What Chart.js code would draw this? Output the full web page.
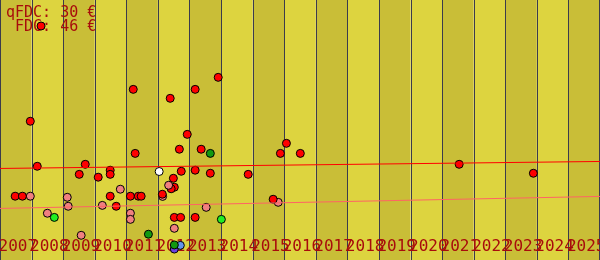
<!DOCTYPE html>
<html>
<head>
<meta charset="utf-8">
<script src="https://cdn.jsdelivr.net/npm/chart.js@4/dist/chart.umd.min.js"></script>
<style>
    body { margin: 0; background: #ffffff; }
    #wrap { width: 600px; height: 260px; }
</style>
</head>
<body>
<div id="wrap"><canvas id="priceChart" width="600" height="260"></canvas></div>
<script>

// years shown as bands along the bottom
var years = [2007, 2008, 2009, 2010, 2011, 2012, 2013, 2014, 2015, 2016,
             2017, 2018, 2019, 2020, 2021, 2022, 2023, 2024, 2025];

var legendLines = ["qFDC: 30 €", " FDC: 46 €"];

// sales: x = date as fractional year, y = price in €
var redSales = [
    {x: 2008.30, y: 108.1}, {x: 2007.96, y: 64.5}, {x: 2011.22, y: 79.1}, {x: 2012.39, y: 75.0},
    {x: 2013.18, y: 79.1}, {x: 2013.91, y: 84.6}, {x: 2012.93, y: 58.5}, {x: 2012.68, y: 51.7},
    {x: 2013.37, y: 51.7}, {x: 2011.28, y: 49.8}, {x: 2016.07, y: 54.4}, {x: 2015.88, y: 49.8},
    {x: 2016.51, y: 49.8}, {x: 2008.18, y: 43.9}, {x: 2009.70, y: 44.8}, {x: 2009.51, y: 40.2},
    {x: 2010.11, y: 38.9}, {x: 2010.49, y: 42.1}, {x: 2010.49, y: 40.2}, {x: 2012.49, y: 38.4},
    {x: 2012.74, y: 41.6}, {x: 2013.18, y: 42.1}, {x: 2013.66, y: 40.7}, {x: 2012.14, y: 31.1},
    {x: 2007.48, y: 30.2}, {x: 2007.71, y: 30.2}, {x: 2010.49, y: 30.2}, {x: 2011.13, y: 30.2},
    {x: 2011.38, y: 30.2}, {x: 2011.47, y: 30.2}, {x: 2010.68, y: 25.6}, {x: 2012.52, y: 20.5},
    {x: 2012.72, y: 20.5}, {x: 2013.18, y: 20.5}, {x: 2014.86, y: 40.2}, {x: 2015.65, y: 28.8},
    {x: 2021.54, y: 44.8}, {x: 2023.89, y: 40.7}
];
var pinkSales = [
    {x: 2012.34, y: 35.2}, {x: 2012.15, y: 30.1}, {x: 2013.53, y: 25.1}, {x: 2012.52, y: 15.5},
    {x: 2007.96, y: 30.2}, {x: 2008.50, y: 22.4}, {x: 2009.13, y: 29.7}, {x: 2009.16, y: 25.6},
    {x: 2009.57, y: 12.3}, {x: 2010.24, y: 26.0}, {x: 2010.81, y: 33.4}, {x: 2011.13, y: 22.4},
    {x: 2011.13, y: 19.6}, {x: 2015.81, y: 27.4}
];
var lateRedSales = [ {x: 2012.52, y: 34.3}, {x: 2012.42, y: 33.6} ]; // drawn over the pink ones
var limeSales = [ {x: 2008.72, y: 20.5}, {x: 2014.01, y: 19.6} ];
var greenSales = [ {x: 2011.70, y: 12.8}, {x: 2013.66, y: 49.8}, {x: 2012.52, y: 7.9} ];
var whiteSales = [ {x: 2012.04, y: 41.5} ];
var blueSales = [ {x: 2012.71, y: 7.7} ];
var purpleSales = [ {x: 2012.52, y: 6.0} ];

// trend lines, value at start of 2007 and end of 2025
var fdcTrend = [42.9, 46.1];
var qfdcTrend = [24.6, 30.1];

var TEXT_RED = "#a80c0c";


function sales_set( data, color ) {
    return {
        type: "scatter",
        data: data,
        pointRadius: 4,
        pointHoverRadius: 4,
        pointBorderWidth: 1,
        pointBorderColor: "#000000",
        pointBackgroundColor: color
    };
} // sales set

function trend_set( values, color ) {
    return {
        type: "line",
        data: [ {x: years[0], y: values[0]}, {x: years[years.length - 1] + 1, y: values[1]} ],
        borderColor: color,
        borderWidth: 1,
        pointRadius: 0,
        fill: false
    };
} // trend set


var bandsPlugin = {
    id: "bands",
    beforeDatasetsDraw: function(chart) {
        var ctx = chart.ctx;
        var xs = chart.scales.x;
        var area = chart.chartArea;
        ctx.save();

        // alternating year bands
        for (var i = 0; i < years.length; i++) {
            var x1 = xs.getPixelForValue(years[i]);
            var x2 = xs.getPixelForValue(years[i] + 1);
            ctx.fillStyle = (i % 2 == 0) ? "#c9be37" : "#ddd43f";
            ctx.fillRect(x1, area.top, x2 - x1, area.bottom - area.top);
        }

        // separators
        ctx.strokeStyle = "#3b3b4c";
        ctx.lineWidth = 1;
        for (var j = 0; j <= years.length; j++) {
            var xl = Math.round(xs.getPixelForValue(years[0] + j)) + 0.5;
            if (xl > area.right) xl = area.right - 0.5;
            ctx.beginPath();
            ctx.moveTo(xl, area.top);
            ctx.lineTo(xl, area.bottom);
            ctx.stroke();
        }

        // year labels, inside the bottom of the plot
        ctx.fillStyle = TEXT_RED;
        ctx.font = "16px 'DejaVu Sans Mono'";
        ctx.textBaseline = "alphabetic";
        ctx.textAlign = "left";
        for (var k = 0; k < years.length; k++) {
            ctx.fillText(String(years[k]), xs.getPixelForValue(years[k]) - 1.5, 251);
        }

        // price legend top left
        ctx.font = "15px 'DejaVu Sans Mono'";
        for (var m = 0; m < legendLines.length; m++) {
            ctx.fillText(legendLines[m], 6, 17 + m * 14);
        }
        ctx.restore();
    }
}; // bands plugin


new Chart( document.getElementById("priceChart"),
    {
        type: "scatter",
        data: {
            datasets: [
                trend_set(fdcTrend, "#ff0000"),
                trend_set(qfdcTrend, "#ff6464"),
                sales_set(redSales, "#ff0000"),
                sales_set(pinkSales, "#f08080"),
                sales_set(lateRedSales, "#ff0000"),
                sales_set(limeSales, "#22ee22"),
                sales_set(greenSales, "#119911"),
                sales_set(whiteSales, "#ffffff"),
                sales_set(blueSales, "#6495ed"),
                sales_set(purpleSales, "#6a40e0")
            ]
        },
        options: {
            responsive: false,
            animation: false,
            layout: { padding: 0, autoPadding: false },
            plugins: {
                legend: { display: false },
                tooltip: { enabled: false }
            },
            scales: {
                x: { type: "linear", display: false, min: years[0], max: years[years.length - 1] + 1 },
                y: { type: "linear", display: false, min: 1, max: 120 }
            }
        },
        plugins: [bandsPlugin]
    }
);

</script>
</body>
</html>
